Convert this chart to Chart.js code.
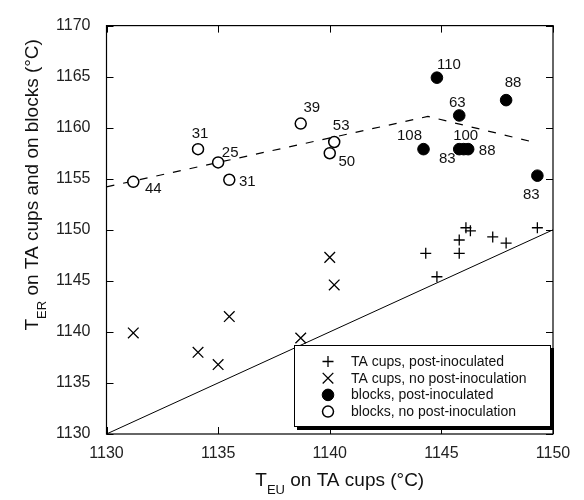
<!DOCTYPE html>
<html lang="en">
<head>
  <meta charset="UTF-8">
  <title>T_ER vs T_EU</title>
  <script src="https://cdn.jsdelivr.net/npm/chart.js"></script>
  <style>
    html, body { margin: 0; padding: 0; background: #fff; }
    #wrap { position: relative; width: 584px; height: 500px; }
  </style>
</head>
<body>
  <div id="wrap"><canvas id="chart" width="584" height="500"></canvas></div>

  <script>
    // TA cups, post-inoculated (+)
    const cupsPostX = [1144.3, 1144.8, 1145.8, 1145.8, 1146.1, 1146.3, 1147.3, 1147.9, 1149.3];
    const cupsPostY = [1147.7, 1145.4, 1147.7, 1149.0, 1150.2, 1149.9, 1149.3, 1148.7, 1150.2];

    // TA cups, no post-inoculation (x)
    const cupsNoX = [1131.2, 1134.1, 1135.0, 1135.5, 1138.7, 1140.0, 1140.2];
    const cupsNoY = [1139.9, 1138.0, 1136.8, 1141.5, 1139.4, 1147.3, 1144.6];

    // blocks, post-inoculated (filled circles) + numbers printed beside them
    const blocksPostX = [1144.8, 1147.9, 1145.8, 1144.2, 1145.8, 1146.0, 1146.2, 1149.3];
    const blocksPostY = [1164.9, 1162.7, 1161.2, 1157.9, 1157.9, 1157.9, 1157.9, 1155.3];
    const blocksPostN = [110, 88, 63, 108, 83, 100, 88, 83];

    // blocks, no post-inoculation (open circles)
    const blocksNoX = [1131.2, 1134.1, 1135.0, 1135.5, 1138.7, 1140.2, 1140.0];
    const blocksNoY = [1154.7, 1157.9, 1156.6, 1154.9, 1160.4, 1158.6, 1157.5];
    const blocksNoN = [44, 31, 25, 31, 39, 53, 50];

    // dashed trend through the blocks, and the 1:1 line
    const trendX = [1130, 1144.4, 1149.3];
    const trendY = [1154.2, 1161.1, 1158.5];
    const equalX = [1130, 1150];
    const equalY = [1130, 1150];

    const xTicks = [1130, 1135, 1140, 1145, 1150];
    const yTicks = [1130, 1135, 1140, 1145, 1150, 1155, 1160, 1165, 1170];

    // where each number sits relative to its circle (px)
    const blocksPostOff = [[12, -13], [7, -17], [-2, -13], [-14, -13], [-12, 10], [2, -13], [19, 2], [-6, 19]];
    const blocksNoOff = [[20, 7], [2, -15], [12, -10], [18, 2], [11, -16], [7, -16], [17, 9]];

    const pts = (xs, ys) => xs.map((x, i) => ({ x: x, y: ys[i] }));
    const FONT = 'Arial, "Liberation Sans", sans-serif';

    const series = [
      { label: 'TA cups, post-inoculated', data: pts(cupsPostX, cupsPostY), pointStyle: 'cross', pointRadius: 5.5, backgroundColor: '#000', borderColor: '#000', borderWidth: 1.3 },
      { label: 'TA cups, no post-inoculation', data: pts(cupsNoX, cupsNoY), pointStyle: 'crossRot', pointRadius: 7.5, backgroundColor: '#000', borderColor: '#000', borderWidth: 1.3 },
      { label: 'blocks, post-inoculated', data: pts(blocksPostX, blocksPostY), pointStyle: 'circle', pointRadius: 5.8, backgroundColor: '#000', borderColor: '#000', borderWidth: 1 },
      { label: 'blocks, no post-inoculation', data: pts(blocksNoX, blocksNoY), pointStyle: 'circle', pointRadius: 5.5, backgroundColor: '#fff', borderColor: '#000', borderWidth: 1.5 }
    ];

    // inward tick marks and box frame on all four sides
    const framePlugin = {
      id: 'frame',
      afterDatasetsDraw(chart) {
        const { ctx, chartArea: a, scales } = chart;
        ctx.save();
        ctx.strokeStyle = '#000';
        ctx.lineWidth = 1.2;
        ctx.strokeRect(a.left, a.top, a.right - a.left, a.bottom - a.top);
        ctx.lineWidth = 1;
        ctx.beginPath();
        xTicks.forEach(v => {
          const px = Math.round(scales.x.getPixelForValue(v)) + 0.5;
          ctx.moveTo(px, a.bottom); ctx.lineTo(px, a.bottom - 7);
          ctx.moveTo(px, a.top); ctx.lineTo(px, a.top + 7);
        });
        yTicks.forEach(v => {
          const py = Math.round(scales.y.getPixelForValue(v)) + 0.5;
          ctx.moveTo(a.left, py); ctx.lineTo(a.left + 7, py);
          ctx.moveTo(a.right, py); ctx.lineTo(a.right - 7, py);
        });
        ctx.stroke();
        ctx.restore();
      }
    };

    // numbers next to the block circles
    const numberPlugin = {
      id: 'numbers',
      afterDatasetsDraw(chart) {
        const { ctx } = chart;
        ctx.save();
        ctx.font = '15px ' + FONT;
        ctx.fillStyle = '#111';
        ctx.textAlign = 'center';
        ctx.textBaseline = 'middle';
        const put = (dsIndex, nums, offs) => {
          chart.getDatasetMeta(dsIndex).data.forEach((el, i) => {
            ctx.fillText(String(nums[i]), el.x + offs[i][0], el.y + offs[i][1]);
          });
        };
        put(3, blocksNoN, blocksNoOff);
        put(2, blocksPostN, blocksPostOff);
        ctx.restore();
      }
    };

    // legend box with a drop shadow, lower right of the plot
    const legendPlugin = {
      id: 'boxLegend',
      afterDraw(chart) {
        const { ctx, chartArea: a } = chart;
        const x1 = a.right - 2, y1 = a.bottom - 7;
        const x0 = x1 - 257, y0 = y1 - 82;
        ctx.save();
        ctx.fillStyle = '#000';
        ctx.fillRect(x0 + 3, y0 + 3, x1 - x0, y1 - y0);
        ctx.fillStyle = '#fff';
        ctx.fillRect(x0, y0, x1 - x0, y1 - y0);
        ctx.strokeStyle = '#000';
        ctx.lineWidth = 1;
        ctx.strokeRect(x0 + 0.5, y0 + 0.5, x1 - x0 - 1, y1 - y0 - 1);
        ctx.font = '14px ' + FONT;
        ctx.textBaseline = 'middle';
        ctx.textAlign = 'left';
        series.forEach((s, i) => {
          const cy = y0 + 16.5 + i * 16.7;
          ctx.lineWidth = s.borderWidth;
          ctx.strokeStyle = s.borderColor;
          ctx.fillStyle = s.backgroundColor;
          Chart.helpers.drawPoint(ctx, { pointStyle: s.pointStyle, radius: s.pointRadius, borderWidth: s.borderWidth }, x0 + 34, cy);
          ctx.fillStyle = '#111';
          ctx.fillText(s.label, x0 + 57, cy + 0.5);
        });
        ctx.restore();
      }
    };

    // axis titles with subscripts
    const titlePlugin = {
      id: 'axisTitles',
      afterDraw(chart) {
        const { ctx, chartArea: a } = chart;
        const big = '19px ' + FONT, small = '13px ' + FONT;
        const parts = (sub, rest) => {
          ctx.font = big; const wT = ctx.measureText('T').width;
          ctx.font = small; const wS = ctx.measureText(sub).width;
          ctx.font = big; const wR = ctx.measureText(rest).width;
          return { wT, wS, wR, w: wT + wS + wR };
        };
        const drawTitle = (sub, rest, cx, cy, angle) => {
          const p = parts(sub, rest);
          ctx.save();
          ctx.translate(cx, cy);
          ctx.rotate(angle);
          ctx.fillStyle = '#111';
          ctx.textAlign = 'left';
          ctx.textBaseline = 'alphabetic';
          let x = -p.w / 2;
          ctx.font = big; ctx.fillText('T', x, 0); x += p.wT;
          ctx.font = small; ctx.fillText(sub, x, 8); x += p.wS;
          ctx.font = big; ctx.fillText(rest, x, 0);
          ctx.restore();
        };
        drawTitle('EU', ' on TA cups (°C)', (a.left + a.right) / 2 + 10, 486, 0);
        drawTitle('ER', ' on TA cups and on blocks (°C)', 38, (a.top + a.bottom) / 2 - 45, -Math.PI / 2);
      }
    };

    const ctx = document.getElementById('chart').getContext('2d');
    new Chart(ctx, {
      type: 'scatter',
      data: {
        datasets: series.concat([
          { type: 'line', label: 'trend', data: pts(trendX, trendY), borderColor: '#000', borderWidth: 1.2, borderDash: [8, 9], pointRadius: 0, fill: false, tension: 0 },
          { type: 'line', label: '1:1', data: pts(equalX, equalY), borderColor: '#000', borderWidth: 1, pointRadius: 0, fill: false, tension: 0 }
        ])
      },
      options: {
        responsive: false,
        animation: false,
        layout: { padding: { top: 19, right: 31, left: 0, bottom: 0 } },
        plugins: {
          legend: { display: false },
          tooltip: { enabled: false }
        },
        scales: {
          x: {
            type: 'linear',
            min: 1130,
            max: 1150,
            afterBuildTicks: scale => { scale.ticks = xTicks.map(v => ({ value: v })); },
            afterFit: scale => { scale.height = 66; },
            grid: { display: false, drawTicks: false },
            border: { display: false },
            ticks: { color: '#222', font: { family: FONT, size: 16 }, padding: 10, maxRotation: 0, callback: v => String(v) }
          },
          y: {
            type: 'linear',
            min: 1130,
            max: 1170,
            afterBuildTicks: scale => { scale.ticks = yTicks.map(v => ({ value: v })); },
            afterFit: scale => { scale.width = 106.5; },
            grid: { display: false, drawTicks: false },
            border: { display: false },
            ticks: { color: '#222', font: { family: FONT, size: 16 }, padding: 16, callback: v => String(v) }
          }
        }
      },
      plugins: [framePlugin, numberPlugin, legendPlugin, titlePlugin]
    });
  </script>
</body>
</html>
